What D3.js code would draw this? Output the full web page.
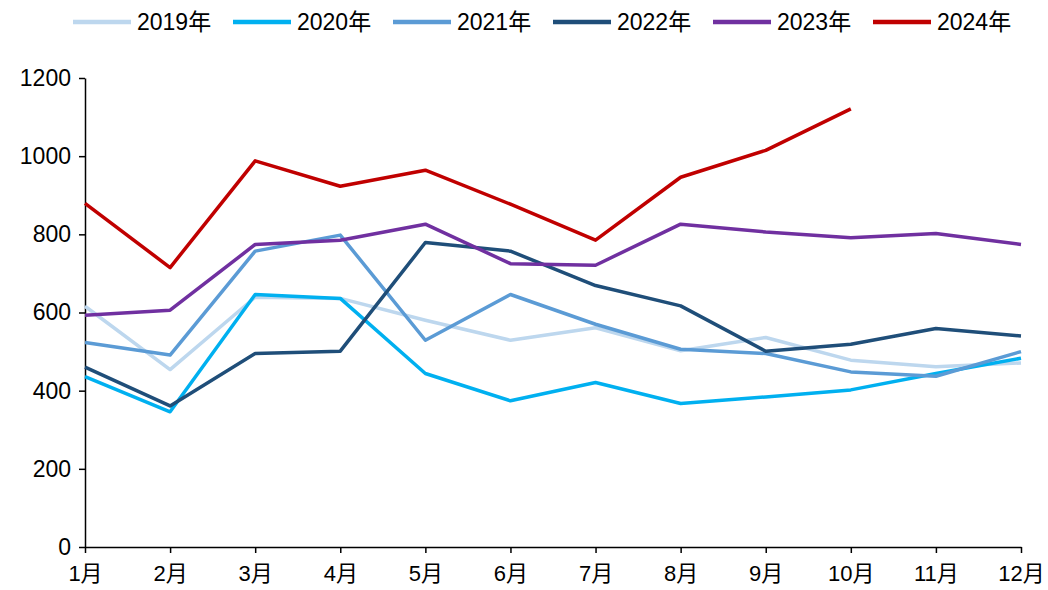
<!DOCTYPE html>
<html lang="zh">
  <head>
    <meta charset="UTF-8" />
    <title>月度走势</title>
    <style>
      body { margin: 0; background: #fff; }
      svg { display: block; }
      text { font-family: "Liberation Sans", Arial, "Noto Sans CJK SC", sans-serif; fill: #000; }
      .axis path, .axis line { stroke: #000; stroke-width: 1.5px; }
    </style>
  </head>
  <body>
    <svg width="1048" height="590"></svg>
    <script src="https://d3js.org/d3.v7.min.js"></script>
    <script>
      // 数据
      const months = ["1月", "2月", "3月", "4月", "5月", "6月", "7月", "8月", "9月", "10月", "11月", "12月"];
      const years = ["2019年", "2020年", "2021年", "2022年", "2023年", "2024年"];
      const colors = ["#bdd7ee", "#00b0f0", "#5b9bd5", "#1f4e79", "#7030a0", "#c00000"];
      const yTicks = [0, 200, 400, 600, 800, 1000, 1200];
      const v2019 = [616, 454, 639, 636, 580, 529, 561, 502, 536, 478, 461, 471];
      const v2020 = [436, 346, 646, 636, 444, 374, 421, 367, 384, 402, 444, 483];
      const v2021 = [523, 491, 757, 798, 529, 646, 570, 506, 495, 448, 437, 500];
      const v2022 = [460, 361, 495, 501, 779, 757, 669, 617, 501, 519, 559, 540];
      const v2023 = [593, 606, 774, 785, 826, 725, 721, 826, 806, 791, 802, 774];
      const v2024 = [879, 715, 988, 923, 964, 877, 785, 946, 1015, 1121];
      const series = [v2019, v2020, v2021, v2022, v2023, v2024];

      const svg = d3.select("svg"),
        margin = { top: 78, right: 27, bottom: 43, left: 85 },
        width = +svg.attr("width") - margin.left - margin.right,
        height = +svg.attr("height") - margin.top - margin.bottom;

      const x = d3.scalePoint().domain(months).range([0, width]);
      const y = d3.scaleLinear().domain([0, 1200]).range([height, 0]);

      const g = svg.append("g").attr("transform", "translate(" + margin.left + "," + margin.top + ")");

      // 坐标轴
      const yAxis = g.append("g").attr("class", "axis")
        .call(d3.axisLeft(y).tickValues(yTicks).tickFormat(d3.format("d"))
          .tickSize(6).tickSizeOuter(0).tickPadding(8));
      yAxis.selectAll("text").style("font-size", "23px");

      const xAxis = g.append("g").attr("class", "axis")
        .attr("transform", "translate(0," + height + ")")
        .call(d3.axisBottom(x).tickSize(6).tickSizeOuter(0).tickPadding(12));
      xAxis.selectAll("text").style("font-size", "22px");

      // 折线
      const line = d3.line()
        .x((d, i) => x(months[i]))
        .y((d) => y(d));

      series.forEach((s, k) => {
        g.append("path")
          .datum(s)
          .attr("fill", "none")
          .attr("stroke", colors[k])
          .attr("stroke-width", 3.5)
          .attr("stroke-linejoin", "round")
          .attr("d", line);
      });

      // 图例
      const legend = svg.append("g").attr("transform", "translate(73,22)");
      years.forEach((name, k) => {
        const item = legend.append("g").attr("transform", "translate(" + k * 160 + ",0)");
        item.append("line")
          .attr("x1", 0).attr("x2", 58).attr("y1", 0).attr("y2", 0)
          .attr("stroke", colors[k]).attr("stroke-width", 4.5);
        item.append("text")
          .attr("x", 64).attr("y", 0).attr("dy", "0.36em")
          .style("font-size", "23px")
          .text(name);
      });
    </script>
  </body>
</html>
